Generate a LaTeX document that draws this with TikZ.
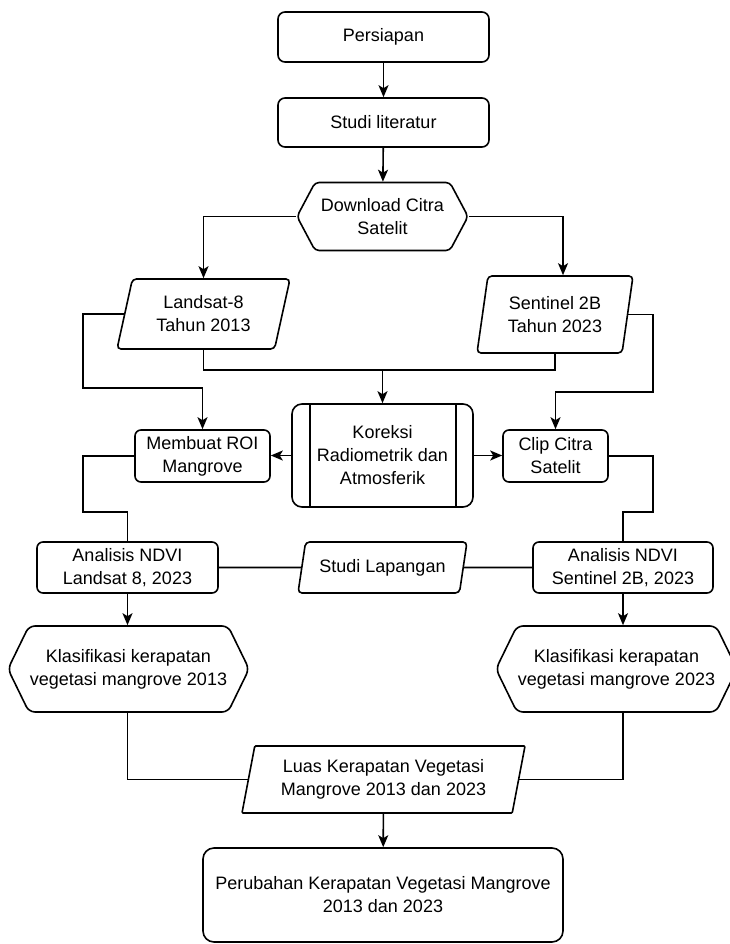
\documentclass[tikz,border=0pt]{standalone}
\usepackage{fontspec}
\setmainfont{Liberation Sans}
\usetikzlibrary{arrows.meta,shapes.geometric,shapes.symbols}

\tikzset{
  every node/.style={font=\fontsize{18}{23}\selectfont, align=center, inner sep=1pt},
  flowline/.style={line width=1.6pt},
  arr/.style={flowline, -{Stealth[length=12pt,width=10pt,inset=3pt]}},
  procbox/.style={draw, line width=1.6pt, fill=white, rounded corners=7pt},
  databox/.style={trapezium, trapezium stretches body, draw, line width=1.6pt, fill=white, rounded corners=4pt},
  prepbox/.style={signal, signal to=west and east, draw, line width=1.6pt, fill=white, rounded corners=4pt}
}

\begin{document}
\begin{tikzpicture}[x=1pt,y=1pt,yscale=-1,xscale=1]
        \useasboundingbox (0,0) rectangle (729,944);

        %Rounded Rect
        \node [procbox, minimum width=211, minimum height=50] (pers) at (383.5,37) {Persiapan};
        %Rounded Rect
        \node [procbox, minimum width=211, minimum height=49] (stud) at (383.5,122.5) {Studi literatur};
        %Hexagon
        \node [prepbox, signal pointer angle=124, minimum width=171, minimum height=68] (dl) at (382.5,216.5) {Download Citra\\Satelit};
        %Parallelogram
        \node [databox, trapezium left angle=68, trapezium right angle=112, minimum width=173, minimum height=70] (ls) at (203.5,314) {Landsat-8\\Tahun 2013};
        %Parallelogram
        \node [databox, trapezium left angle=74, trapezium right angle=106, minimum width=156, minimum height=77] (sn) at (555,314.5) {Sentinel 2B\\Tahun 2023};
        %Predefined Process
        \node [procbox, rounded corners=10pt, minimum width=181, minimum height=103] (kor) at (382.5,455.5) {Koreksi\\Radiometrik dan\\Atmosferik};
        \draw [flowline] ([xshift=19]kor.north west) -- ([xshift=19]kor.south west);
        \draw [flowline] ([xshift=-18]kor.north east) -- ([xshift=-18]kor.south east);
        %Rounded Rect
        \node [procbox, rounded corners=6pt, minimum width=135, minimum height=52] (roi) at (202.5,456) {Membuat ROI\\Mangrove};
        %Rounded Rect
        \node [procbox, rounded corners=6pt, minimum width=105, minimum height=52] (clip) at (555.5,456) {Clip Citra\\Satelit};
        %Rounded Rect
        \node [procbox, rounded corners=6pt, minimum width=181, minimum height=51] (anl) at (127.5,567.5) {Analisis NDVI\\Landsat 8, 2023};
        %Parallelogram
        \node [databox, trapezium left angle=68, trapezium right angle=112, minimum width=169, minimum height=51] (sl) at (382.5,567.5) {Studi Lapangan};
        %Rounded Rect
        \node [procbox, rounded corners=6pt, minimum width=180, minimum height=51] (ans) at (623,567.5) {Analisis NDVI\\Sentinel 2B, 2023};
        %Hexagon
        \node [prepbox, rounded corners=6pt, signal pointer angle=128, minimum width=233, minimum height=86] (kl13) at (128.5,669) {Klasifikasi kerapatan\\vegetasi mangrove 2013};
        %Hexagon
        \node [prepbox, rounded corners=6pt, signal pointer angle=128, minimum width=220, minimum height=86] (kl23) at (616.5,669) {Klasifikasi kerapatan\\vegetasi mangrove 2023};
        %Parallelogram
        \node [databox, rounded corners=1pt, trapezium left angle=73, trapezium right angle=107, minimum width=283, minimum height=67] (luas) at (383.5,779.5) {Luas Kerapatan Vegetasi\\Mangrove 2013 dan 2023};
        %Rounded Rect
        \node [procbox, rounded corners=11pt, minimum width=360, minimum height=94] (per) at (383,895) {Perubahan Kerapatan Vegetasi Mangrove\\2013 dan 2023};

        % Elbow points
        \coordinate (jn) at (382.5,370);
        \coordinate (lsl) at (83,388);
        \coordinate (snr) at (653,392);
        \coordinate (roil) at (83,512);
        \coordinate (clipr) at (653,512);

        %Straight Lines
        \draw [arr] (pers) -- (stud);
        \draw [arr] (stud) -- (dl);
        \draw [arr] (dl.west) -| (ls.north);
        \draw [arr] (dl.east) -| ([xshift=8]sn.north);
        %Straight Lines
        \draw [flowline] (ls.south) |- (jn);
        \draw [flowline] (sn.south) |- (jn);
        \draw [arr] (jn) -- (kor.north);
        \draw [arr] (ls.west) -| (lsl) -| (roi.north);
        \draw [arr] (sn.east) -| (snr) -| (clip.north);
        %Straight Lines
        \draw [arr] (kor.west) -- (kor.west -| roi.east);
        \draw [arr] (kor.east) -- (kor.east -| clip.west);
        \draw [flowline] (roi.west) -| (roil) -| (anl.north);
        \draw [flowline] (clip.east) -| (clipr) -| (ans.north);
        %Straight Lines
        \draw [flowline] (anl.east) -- (sl.west);
        \draw [flowline] (sl.east) -- (ans.west);
        \draw [arr] (anl.south) -- (anl.south |- kl13.north);
        \draw [arr] (ans.south) -- (ans.south |- kl23.north);
        %Straight Lines
        \draw [flowline] (kl13.south -| anl.south) |- (luas.west);
        \draw [flowline] (kl23.south -| ans.south) |- (luas.east);
        \draw [arr] (luas) -- (per);

\end{tikzpicture}
\end{document}
